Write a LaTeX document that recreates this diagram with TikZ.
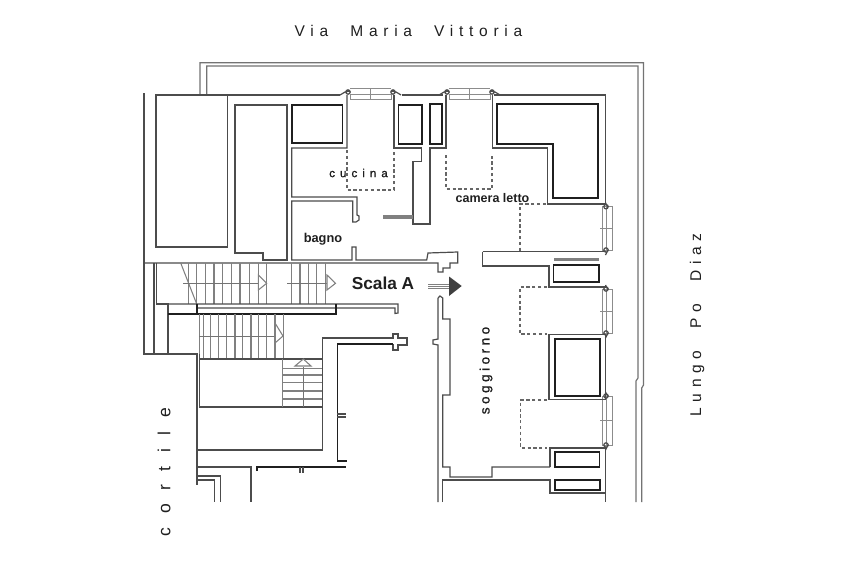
\documentclass[tikz,border=0pt]{standalone}
\usepackage{fontspec}
\setmainfont{Liberation Sans}
\newfontfamily\wide[LetterSpace=37,WordSpace=2.2]{Liberation Sans}
\newfontfamily\widerr[LetterSpace=78]{Liberation Sans}
\newfontfamily\cucinafont[LetterSpace=44,FakeBold=1.2]{Liberation Sans}
\newfontfamily\soggfont[LetterSpace=26,FakeBold=1.2]{Liberation Sans}
\begin{document}
\begin{tikzpicture}[x=1pt,y=-1pt,
  wall/.style={draw=black!70,line width=1.2pt,line join=miter},
  heavy/.style={draw=black!88,line width=1.8pt,line join=miter},
  thin/.style={draw=black!55,line width=.95pt},
  tread/.style={draw=black!50,line width=1.05pt},
  hidden/.style={draw=black!60,line width=1.3pt,dash pattern=on 3.2pt off 2.6pt},
  glass/.style={draw=black!45,line width=1pt},
  label/.style={inner sep=0pt,text=black!88}]
\useasboundingbox (0,0) rectangle (853,560);
\fill[white] (0,0) rectangle (853,560);

% parapet
\draw[thin,line width=1.2pt] (200,95) -- (200,62.7) -- (643.5,62.7) -- (643.5,385) -- (641.7,388) -- (641.7,502);
\draw[thin,line width=1.2pt] (206.7,95) -- (206.7,66) -- (638,66) -- (638,378) -- (636,381) -- (636,502);

% top line and left block
\draw[wall] (156,95) -- (340,95);
\draw[wall] (402,95) -- (443,95);
\draw[wall] (494,95) -- (605.5,95) -- (605.5,204);
\draw[wall] (156,95) rectangle (227.5,247);
\draw[wall] (144,93) -- (144,354) -- (197,354) -- (197,485);
\draw[wall] (235,105) -- (287,105) -- (287,260) -- (263,260) -- (263,253) -- (235,253) -- cycle;

% cucina and bagno
\draw[heavy] (292,105) rectangle (342.5,143);
\draw[wall] (347,95) -- (347,148) -- (291.7,148) -- (291.7,197) -- (357,197) -- (357,215) -- (359,216) -- (359,220) -- (356,222) -- (352.7,222) -- (352.7,201) -- (291.7,201) -- (291.7,260) -- (352,260) -- (352,247) -- (356,247) -- (356,260) -- (426.7,260) -- (428,253) -- (457.7,252) -- (457.7,263) -- (450,263) -- (450,268) -- (443,268) -- (443,272) -- (438,272) -- (438,263) -- (144,263);
\draw[wall] (394,95) -- (394,148) -- (421.7,148) -- (421.7,161.7) -- (413,161.7) -- (413,224) -- (430,224) -- (430,148) -- (446,148) -- (446,95);
\draw[heavy] (398.5,105) rectangle (421.7,144);
\draw[heavy] (430,104) rectangle (441.7,144);
\fill[black!50] (383,215) rectangle (413,218.5);
\draw[hidden] (347,150) -- (347,190) -- (394,190) -- (394,150);
\draw[hidden] (446,155) -- (446,189) -- (492,189) -- (492,155);

% top windows
\foreach \a in {370,469}{
  \draw[glass] (\a-20,94) rectangle (\a+21,99);
  \draw[glass] (\a-20,88.3) -- (\a+21,88.3);
  \draw[glass] (\a,88) -- (\a,99);
  \draw[wall] (\a-30,95) -- (\a-25,92) -- (\a-20,91) (\a-22,92) circle (2.2);
  \draw[wall] (\a+31,95) -- (\a+26,92) -- (\a+21,91) (\a+23,92) circle (2.2);
}

% camera letto
\draw[wall] (492.7,95) -- (492.7,148) -- (547.7,148) -- (547.7,204) -- (605.5,204);
\draw[heavy] (497.3,104.3) -- (597.7,104.3) -- (597.7,198) -- (553,198) -- (553,143.7) -- (497.3,143.7) -- cycle;
\draw[hidden] (546,204) -- (520,204) -- (520,251);
\draw[wall] (482.7,251.7) -- (605.5,251.7);
\draw[wall] (482.7,251.7) -- (482.7,266) -- (549,266) -- (549,287) -- (605.5,287);
\fill[black!50] (553.5,257.5) rectangle (599,261);
\draw[heavy] (553.5,265) rectangle (598.7,282);

% right windows
\foreach \a/\b in {206.7/250,289/333,396/445}{
  \draw[glass] (602,\a) rectangle (612.7,\b);
  \draw[glass] (606,\a) -- (606,\b);
  \draw[glass] (600,{(\a+\b)/2}) -- (613,{(\a+\b)/2});
  \draw[wall] (605.5,\a-4) -- (607,\a-1) -- (608,\a+1) (606,\a) circle (2.2);
  \draw[wall] (605.5,\b+5) -- (607,\b+2) -- (608,\b) (606,\b) circle (2.2);
}

% soggiorno
\draw[hidden] (547,287) -- (520,287) -- (520,334) -- (547,334);
\draw[wall] (549,334.7) -- (605.5,334.7) -- (605.5,399.6) -- (549,399.6) -- cycle;
\draw[heavy] (555,339) rectangle (600,395.6);
\draw[hidden] (547,400) -- (520.7,400) -- (520.7,448) -- (547,448);
\draw[wall] (550,467) -- (550,448) -- (605.5,448) -- (605.5,502);
\draw[heavy] (555,452) rectangle (599.5,467);
\draw[wall] (438,298) -- (440,296) -- (442.7,298) -- (442.7,319) -- (450,319) -- (450,395) -- (442.7,395) -- (442.7,467) -- (450,467) -- (450,477) -- (492,477) -- (492,467) -- (550,467);
\draw[wall] (438,298) -- (438,339) -- (433,340) -- (433,344) -- (438,345) -- (438,502);
\draw[wall] (442.7,502) -- (442.7,480) -- (550,480) -- (550,493) -- (605.5,493);
\draw[heavy,line width=1.5pt] (555,480) rectangle (600,490);

% upper flight
\foreach \a in {188.3,196.7,205.7,214,222.7,231.7,240,249.3,258.3,266.7,291.7,300,308.3,316.7,325.7}
  \draw[tread] (\a,263) -- (\a,304);
\draw[tread] (180.7,263) -- (196.7,304);
\draw[thin] (183,283.3) -- (258.3,283.3) (287,283.3) -- (327,283.3);
\draw[tread] (258.3,275) -- (266.7,283.3) -- (258.3,290) -- cycle;
\draw[tread] (327,275) -- (335.5,283.3) -- (327,290) -- cycle;
\draw[wall] (154,263) -- (154,354);
\draw[wall] (156.7,263) -- (156.7,304) -- (168,304) -- (168,354);
\draw[wall] (168,304) -- (398,304) -- (398,313) -- (395,313.5) -- (395,308) -- (197,308);
\draw[heavy] (197,304) -- (197,314);
\draw[heavy] (168,314) -- (336,314) -- (336,304);

% lower flight
\foreach \a in {199.3,203.3,210.7,218.3,226.7,235,242.7,251,258.3,266.7,275,283.3}
  \draw[tread] (\a,314) -- (\a,359);
\draw[thin] (199,336) -- (275,336);
\draw[tread] (275,323) -- (283,336) -- (275,343) -- cycle;
\draw[wall,line width=1.1pt] (199.3,354) -- (199.3,407) -- (322,407);
\draw[wall,line width=1.1pt] (199.3,359) -- (322,359);
\draw[tread] (282.7,359) -- (282.7,407);
\foreach \a in {368.3,375,382.7,391,399}
  \draw[tread] (282.7,\a) -- (322,\a);
\draw[thin] (303.3,367) -- (303.3,407);
\draw[tread] (295,366) -- (303.3,359) -- (311,366) -- cycle;

% lobby
\draw[wall] (197,450) -- (322.3,450) -- (322.3,338) -- (393,338) -- (393,334) -- (398,334) -- (398,338) -- (407,338) -- (407,345) -- (398,345) -- (398,350) -- (393,350) -- (393,344);
\draw[heavy] (393,344) -- (337.5,344) -- (337.5,461) -- (347,461);
\draw[wall] (337,414) -- (346,414) (337,417) -- (346,417);
\draw[wall] (197,467) -- (251,467) -- (251,502);
\draw[heavy,line width=1.4pt] (257,471) -- (257,467) -- (346,467);
\draw[wall] (300,467) -- (300,473) (303,467) -- (303,473);
\draw[wall] (197,476) -- (220.7,476) -- (220.7,502);
\draw[wall] (197,480) -- (214.7,480) -- (214.7,502);

% entrance arrow
\draw[black!50,line width=.9pt] (428,284) -- (449,284) (428,286) -- (449,286) (428,288) -- (449,288);
\fill[black!75] (449,276.5) -- (461.7,286) -- (449,296) -- cycle;

% labels
\node[label,anchor=center,font=\wide\fontsize{15.5}{17}\selectfont] (via) at (408.5,31) {Via Maria Vittoria};
\node[label,anchor=center,font=\cucinafont\fontsize{11.5}{13}\selectfont] (cucina) at (358.5,173) {cucina};
\node[label,anchor=center,font=\bfseries\fontsize{12.5}{14}\selectfont] (camera) at (492.5,198) {camera letto};
\node[label,anchor=center,font=\bfseries\fontsize{12.8}{14}\selectfont] (bagno) at (323,239) {bagno};
\node[label,anchor=center,font=\bfseries\fontsize{17.3}{19}\selectfont] (scala) at (383,283) {Scala A};
\node[label,anchor=center,rotate=90,font=\soggfont\fontsize{13.5}{15}\selectfont] (sogg) at (486,370.5) {soggiorno};
\node[label,anchor=center,rotate=90,font=\wide\fontsize{15.5}{17}\selectfont] (lungo) at (697,325) {Lungo Po Diaz};
\node[label,anchor=center,rotate=90,font=\widerr\fontsize{17.5}{19}\selectfont] (cortile) at (164,472) {cortile};
\end{tikzpicture}
\end{document}
